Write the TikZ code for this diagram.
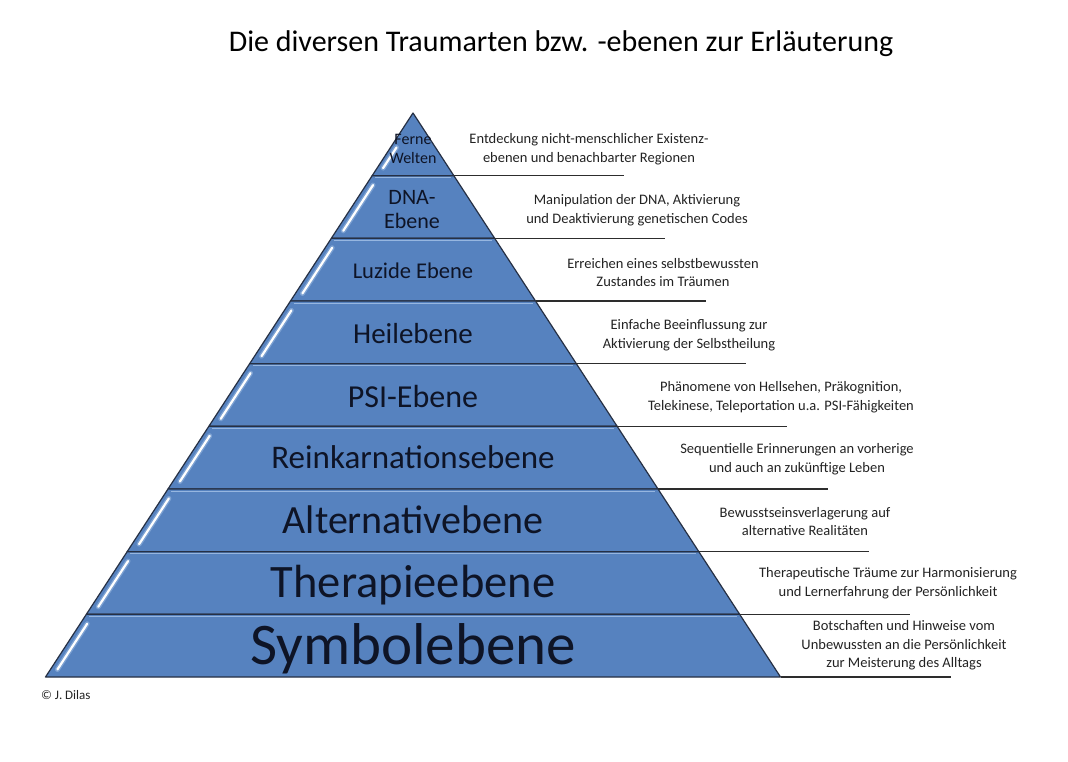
\documentclass[tikz,border=0pt]{standalone}
\usepackage{fontspec}
\setmainfont{Carlito}
\usetikzlibrary{calc}
\definecolor{bandblue}{RGB}{86,130,191}
\definecolor{bandedge}{RGB}{38,48,68}
\definecolor{bandrim}{RGB}{150,182,224}
\definecolor{labeltext}{RGB}{14,20,38}
\definecolor{desctext}{RGB}{35,35,35}
\definecolor{leadercol}{RGB}{45,45,45}
\tikzset{
  band/.style={fill=bandblue, draw=bandedge, line width=1.2pt, line join=round},
  rim/.style={draw=bandrim, line width=1pt},
  glow/.style={draw=bandrim, line width=5pt, line cap=round, opacity=0.6},
  streak/.style={draw=white, line width=2.2pt, line cap=round},
  leader/.style={draw=leadercol, line width=1.3pt},
  lvl/.style={text=labeltext, inner sep=0pt, anchor=base},
  lvlml/.style={text=labeltext, inner sep=0pt, align=center},
  desc/.style={text=desctext, inner sep=0pt, align=center, font=\fontsize{14.5}{18.7}\selectfont},
}
\begin{document}
\begin{tikzpicture}[x=1pt,y=-1pt]
\useasboundingbox (0,0) rectangle (1068,762);
\fill[white] (0,0) rectangle (1068,762);

% corner coordinates of the bands
\foreach \k in {0,...,9} {
  \coordinate (L\k) at ({413-40.833*\k},{113+62.667*\k});
  \coordinate (R\k) at ({413+40.833*\k},{113+62.667*\k});
  \coordinate (E\k) at ({583+40.833*\k},{113+62.667*\k});
}

% bands
\foreach \k [evaluate=\k as \j using int(\k-1)] in {1,...,9} {
  \filldraw[band] (L\j) -- (R\j) -- (R\k) -- (L\k) -- cycle;
}
% light rims under the separators
\foreach \k in {1,...,8} {
  \draw[rim] ($(L\k)+(3,2.2)$) -- ($(R\k)+(-3,2.2)$);
}
% highlight streaks
\draw[glow] ($(L0)!0.55!(L1)+(6,0)$) -- ($(L0)!0.88!(L1)+(6,0)$);
\draw[streak] ($(L0)!0.55!(L1)+(6,0)$) -- ($(L0)!0.88!(L1)+(6,0)$);
\foreach \k [evaluate=\k as \j using int(\k-1)] in {2,...,9} {
  \draw[glow] ($(L\j)!0.15!(L\k)+(7,0)$) -- ($(L\j)!0.88!(L\k)+(7,0)$);
  \draw[streak] ($(L\j)!0.15!(L\k)+(7,0)$) -- ($(L\j)!0.88!(L\k)+(7,0)$);
}

% leader lines to the right
\foreach \k in {1,...,9} {
  \draw[leader] (R\k) -- (E\k);
}

% title
\node[inner sep=0pt, anchor=base, font=\fontsize{30}{36}\selectfont] (title) at (561,52) {Die diversen Traumarten bzw. -ebenen zur Erläuterung};

% level labels
\node[lvlml, font=\fontsize{16}{19}\selectfont] (lv1) at (413,149) {Ferne\\Welten};
\node[lvlml, font=\fontsize{22}{24}\selectfont] (lv2) at (412,210) {DNA-\\Ebene};
\node[lvl, font=\fontsize{22.5}{26}\selectfont] (lv3) at (413,278) {Luzide Ebene};
\node[lvl, font=\fontsize{29}{32}\selectfont] (lv4) at (413,343) {Heilebene};
\node[lvl, font=\fontsize{32}{36}\selectfont] (lv5) at (413,407) {PSI-Ebene};
\node[lvl, font=\fontsize{33}{36}\selectfont] (lv6) at (413,468) {Reinkarnationsebene};
\node[lvl, font=\fontsize{40}{44}\selectfont] (lv7) at (413,533) {Alternativebene};
\node[lvl, font=\fontsize{46.5}{50}\selectfont] (lv8) at (413,597) {Therapieebene};
\node[lvl, font=\fontsize{59}{62}\selectfont] (lv9) at (413,664) {Symbolebene};

% descriptions
\node[desc] (d1) at (589,149) {Entdeckung nicht-menschlicher Existenz-\\ebenen und benachbarter Regionen};
\node[desc] (d2) at (637,210) {Manipulation der DNA, Aktivierung\\und Deaktivierung genetischen Codes};
\node[desc] (d3) at (663,272.5) {Erreichen eines selbstbewussten\\Zustandes im Träumen};
\node[desc] (d4) at (689,335) {Einfache Beeinflussung zur\\Aktivierung der Selbstheilung};
\node[desc] (d5) at (781,397) {Phänomene von Hellsehen, Präkognition,\\Telekinese, Teleportation u.a. PSI-Fähigkeiten};
\node[desc] (d6) at (797,459) {Sequentielle Erinnerungen an vorherige\\und auch an zukünftige Leben};
\node[desc] (d7) at (805,521.5) {Bewusstseinsverlagerung auf\\alternative Realitäten};
\node[desc] (d8) at (888,583) {Therapeutische Träume zur Harmonisierung\\und Lernerfahrung der Persönlichkeit};
\node[desc] (d9) at (904,645.5) {Botschaften und Hinweise vom\\Unbewussten an die Persönlichkeit\\zur Meisterung des Alltags};

% copyright
\node[inner sep=0pt, anchor=base west, text=desctext, font=\fontsize{13}{15}\selectfont] (copy) at (41,699) {© J. Dilas};
\end{tikzpicture}
\end{document}
